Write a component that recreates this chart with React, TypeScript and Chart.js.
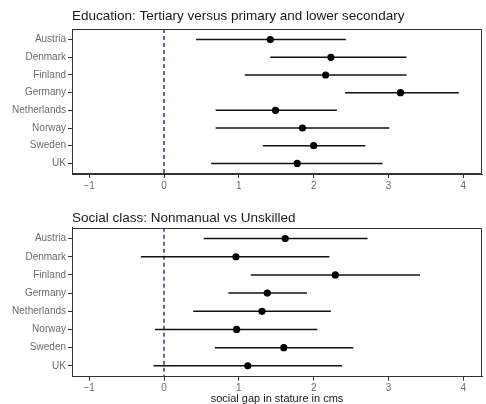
import React, { useEffect, useRef } from "react";
import { Chart, registerables } from "chart.js";

const countries = ["Austria", "Denmark", "Finland", "Germany", "Netherlands", "Norway", "Sweden", "UK"];
const xTickValues = [-1, 0, 1, 2, 3, 4];

const eduTitle = "Education: Tertiary versus primary and lower secondary";
const eduEst = [1.42, 2.23, 2.16, 3.16, 1.49, 1.85, 2.0, 1.78];
const eduLow = [0.43, 1.42, 1.08, 2.42, 0.69, 0.69, 1.32, 0.63];
const eduHigh = [2.43, 3.24, 3.24, 3.94, 2.31, 3.01, 2.69, 2.92];

const classTitle = "Social class: Nonmanual vs Unskilled";
const classEst = [1.62, 0.96, 2.29, 1.38, 1.31, 0.97, 1.6, 1.12];
const classLow = [0.53, -0.31, 1.16, 0.86, 0.39, -0.12, 0.68, -0.14];
const classHigh = [2.72, 2.21, 3.42, 1.91, 2.23, 2.05, 2.53, 2.38];

const xAxisTitle = "social gap in stature in cms";

const X_MIN = -1.23;
const X_MAX = 4.25;
const Y_MIN = -0.6;
const Y_MAX = countries.length - 1 + 0.6;

const boxPlugin = {
  id: "panelBox",
  afterDraw(chart: any) {
    const ctx = chart.ctx;
    const a = chart.chartArea;
    ctx.save();
    ctx.setLineDash([]);
    ctx.strokeStyle = "#333333";
    ctx.lineWidth = 1;
    ctx.beginPath();
    const l = Math.round(a.left) + 0.5;
    const t = Math.round(a.top) + 0.5;
    const r = Math.round(a.right) - 0.5;
    const b = Math.round(a.bottom) - 0.5;
    ctx.moveTo(l, t);
    ctx.lineTo(r, t);
    ctx.lineTo(r, b);
    ctx.lineTo(l, b);
    ctx.closePath();
    ctx.stroke();
    ctx.restore();
  },
};

Chart.register(...registerables, boxPlugin);

function buildConfig(
  title: string,
  est: number[],
  low: number[],
  high: number[],
  showXTitle: boolean,
  titlePad: { top: number; bottom: number },
  xHeight: number
): any {
  const datasets: any[] = [];
  datasets.push({
    label: "estimate",
    data: est.map((v, i) => ({ x: v, y: i })),
    pointRadius: 3.6,
    pointBackgroundColor: "#000000",
    pointBorderWidth: 0,
    showLine: false,
  });
  countries.forEach((c, i) => {
    datasets.push({
      label: c + " interval",
      data: [
        { x: low[i], y: i },
        { x: high[i], y: i },
      ],
      showLine: true,
      borderColor: "#111111",
      borderWidth: 1.5,
      pointRadius: 0,
    });
  });
  datasets.push({
    label: "zero",
    data: [
      { x: 0, y: Y_MIN },
      { x: 0, y: Y_MAX },
    ],
    showLine: true,
    borderColor: "#27277a",
    borderWidth: 1.4,
    borderDash: [4, 3],
    pointRadius: 0,
  });

  return {
    type: "scatter",
    data: { datasets },
    options: {
      animation: false,
      responsive: false,
      events: [],
      layout: { padding: { left: 0, right: 2, top: 0, bottom: 0 } },
      plugins: {
        legend: { display: false },
        tooltip: { enabled: false },
        title: {
          display: true,
          text: title,
          align: "start",
          fullSize: false,
          color: "#1a1a1a",
          font: { family: "'Liberation Sans', Arial, sans-serif", size: 13.5, weight: "normal" },
          padding: titlePad,
        },
      },
      scales: {
        x: {
          type: "linear",
          min: X_MIN,
          max: X_MAX,
          afterBuildTicks: (s: any) => {
            s.ticks = xTickValues.map((v) => ({ value: v }));
          },
          afterFit: (s: any) => {
            s.height = xHeight;
          },
          ticks: {
            color: "#6b6b6b",
            padding: 2,
            font: { family: "'Liberation Sans', Arial, sans-serif", size: 10 },
            callback: (v: any) => (v < 0 ? "\u2212" + Math.abs(v) : String(v)),
          },
          grid: { drawOnChartArea: false, drawTicks: true, tickLength: 4, tickColor: "#333333", tickWidth: 1 },
          border: { display: true, color: "#333333" },
          title: {
            display: showXTitle,
            text: xAxisTitle,
            color: "#1a1a1a",
            font: { family: "'Liberation Sans', Arial, sans-serif", size: 11 },
            padding: { top: 0, bottom: 4 },
          },
        },
        y: {
          type: "linear",
          min: Y_MIN,
          max: Y_MAX,
          reverse: true,
          afterBuildTicks: (s: any) => {
            s.ticks = countries.map((_, i) => ({ value: i }));
          },
          afterFit: (s: any) => {
            s.width = 72;
          },
          ticks: {
            color: "#6b6b6b",
            padding: 2,
            font: { family: "'Liberation Sans', Arial, sans-serif", size: 10 },
            callback: (v: any) => countries[Math.round(v)] ?? "",
          },
          grid: { drawOnChartArea: false, drawTicks: true, tickLength: 4, tickColor: "#333333", tickWidth: 1 },
          border: { display: true, color: "#333333" },
        },
      },
    },
  };
}

function Panel(props: {
  top: number;
  height: number;
  title: string;
  est: number[];
  low: number[];
  high: number[];
  showXTitle: boolean;
  titlePad: { top: number; bottom: number };
  xHeight: number;
}) {
  const ref = useRef<HTMLCanvasElement | null>(null);
  useEffect(() => {
    if (!ref.current) return;
    const chart = new Chart(
      ref.current,
      buildConfig(props.title, props.est, props.low, props.high, props.showXTitle, props.titlePad, props.xHeight)
    );
    return () => chart.destroy();
  }, []);
  return (
    <canvas
      ref={ref}
      width={486}
      height={props.height}
      style={{ position: "absolute", left: 0, top: props.top, width: 486, height: props.height, display: "block" }}
    />
  );
}

export default function App() {
  return (
    <div
      style={{
        position: "fixed",
        left: 0,
        top: 0,
        width: 486,
        height: 404,
        overflow: "hidden",
        background: "#ffffff",
      }}
    >
      <Panel
        top={0}
        height={200}
        title={eduTitle}
        est={eduEst}
        low={eduLow}
        high={eduHigh}
        showXTitle={false}
        titlePad={{ top: 8, bottom: 4.8 }}
        xHeight={26}
      />
      <Panel
        top={200}
        height={210}
        title={classTitle}
        est={classEst}
        low={classLow}
        high={classHigh}
        showXTitle={true}
        titlePad={{ top: 10, bottom: 1.5 }}
        xHeight={33.3}
      />
    </div>
  );
}
